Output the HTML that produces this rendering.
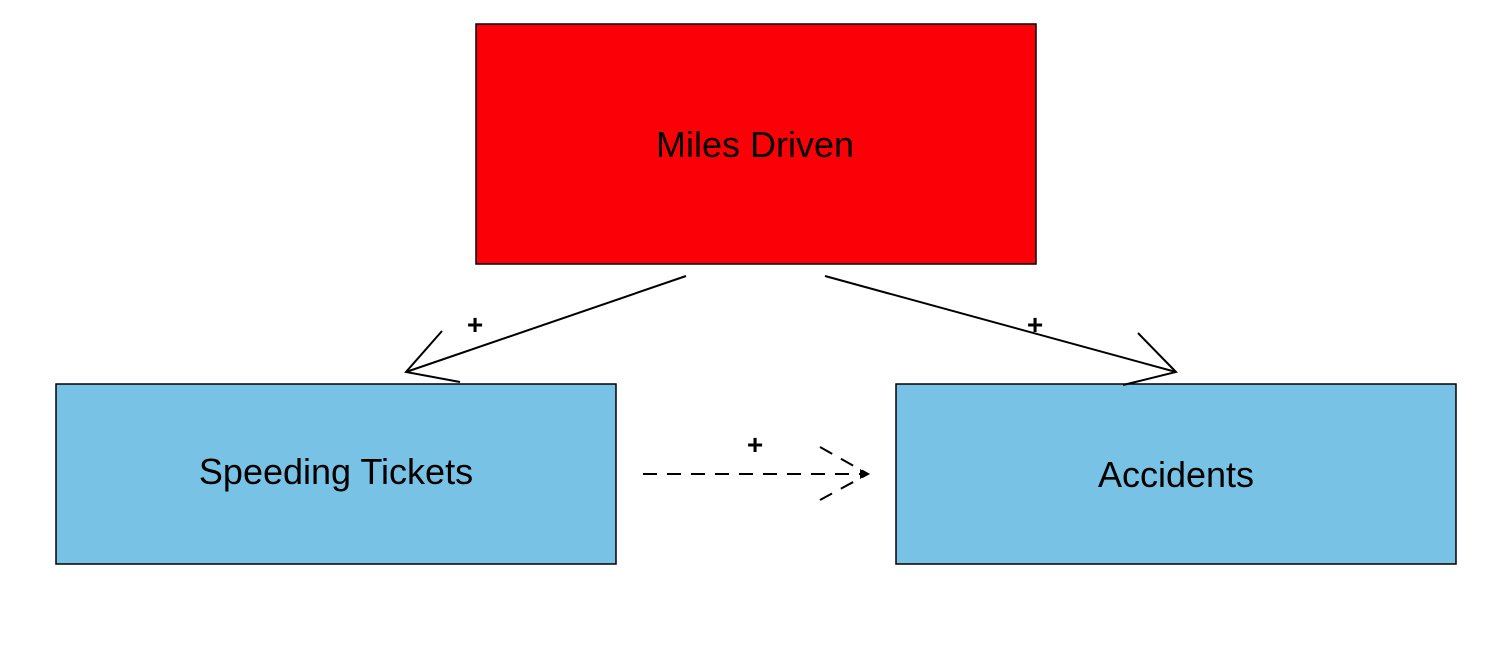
<!DOCTYPE html>
<html><head><style>
body{margin:0;background:#fff;}
</style></head><body>
<svg width="1512" height="648" xmlns="http://www.w3.org/2000/svg" style="display:block">
<rect x="0" y="0" width="1512" height="648" fill="#fff"/>
<rect x="476" y="24" width="560" height="240" fill="#fb0007" stroke="#000" stroke-width="1.5"/>
<rect x="56" y="384" width="560" height="180" fill="#78c2e5" stroke="#000" stroke-width="1.5"/>
<rect x="896" y="384" width="560" height="180" fill="#78c2e5" stroke="#000" stroke-width="1.5"/>
<g font-family="Liberation Sans, sans-serif" font-size="36" text-anchor="middle" fill="#000">
<text x="755" y="157">Miles Driven</text>
<text x="336" y="484">Speeding Tickets</text>
<text x="1176" y="487">Accidents</text>
</g>
<g stroke="#000" stroke-width="2" fill="none">
<line x1="686" y1="276" x2="406" y2="372"/>
<polyline points="442,331 406,372 460,382"/>
<line x1="825" y1="276" x2="1176" y2="372"/>
<polyline points="1138,333 1176,372 1123,385"/>
<line x1="643" y1="474" x2="866" y2="474" stroke-dasharray="14,10"/>
<polyline points="820,447 868,474 820,500" stroke-dasharray="14,10"/>
</g>
<polygon points="868,474 860,469 860,479" fill="#000"/>
<g font-family="Liberation Sans, sans-serif" font-size="28" font-weight="bold" text-anchor="middle" fill="#000">
<text x="475" y="334">+</text>
<text x="1035" y="334">+</text>
<text x="755" y="454">+</text>
</g>
</svg>
</body></html>
